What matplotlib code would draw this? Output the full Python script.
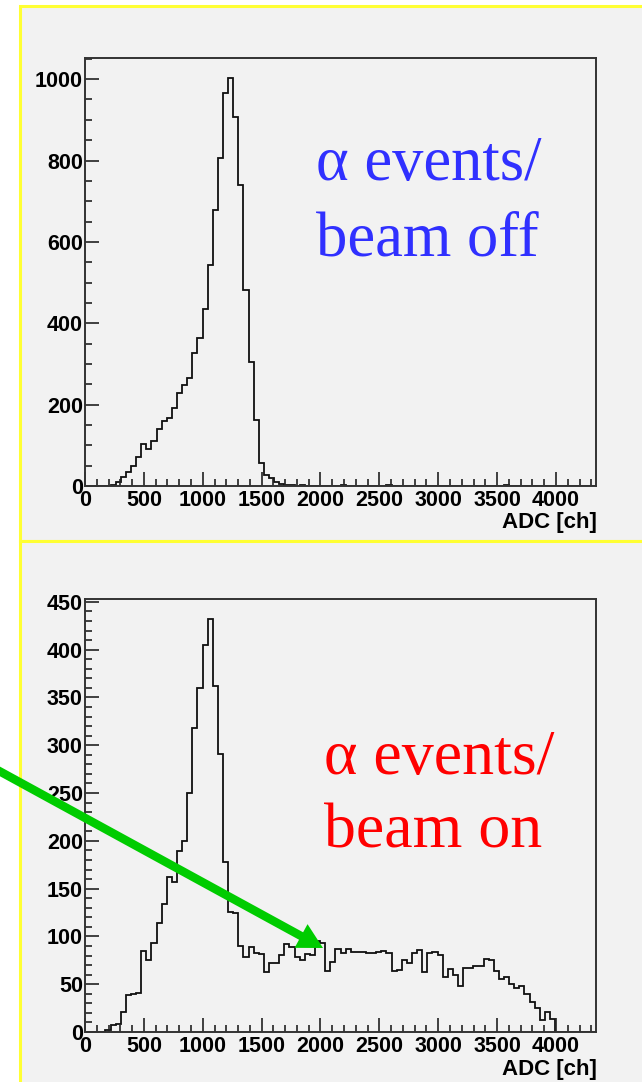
import numpy as np
import matplotlib
matplotlib.use('Agg')
import matplotlib.pyplot as plt
from matplotlib.patches import Rectangle, FancyArrow
from matplotlib.transforms import IdentityTransform
from matplotlib.ticker import MultipleLocator
from matplotlib.font_manager import FontProperties

# ADC spectra, 100 bins over the full axis range
adc_max = 4340
n_bins = 100

beam_off = [0, 0, 0, 0, 0,
            3, 10, 21, 34, 49,
            71, 103, 91, 110, 141,
            160, 167, 191, 228, 248,
            265, 327, 363, 434, 543,
            678, 806, 967, 1004, 906,
            739, 482, 306, 163, 56,
            26, 20, 10, 4, 3,
            2, 1, 2, 1, 0,
            1, 0, 0, 1, 0,
            2, 0, 1, 0, 0,
            1, 0, 1, 0, 2,
            0, 1, 0, 0, 1,
            0, 1, 0, 0, 1,
            0, 0, 1, 0, 0,
            1, 0, 0, 0, 1,
            0, 0, 2, 0, 0,
            1, 0, 0, 0, 0,
            0, 0, 0, 0, 0,
            0, 0, 0, 0, 0]

beam_on = [0, 0, 0, 0, 2,
           7, 8, 21, 39, 40,
           41, 85, 75, 93, 114,
           134, 162, 157, 189, 200,
           250, 318, 360, 405, 432,
           362, 291, 178, 126, 124,
           90, 78, 89, 83, 82,
           63, 72, 72, 81, 92,
           89, 78, 75, 82, 81,
           95, 93, 64, 73, 87,
           83, 87, 84, 84, 84,
           83, 83, 84, 85, 83,
           64, 65, 75, 72, 83,
           86, 63, 83, 84, 81,
           58, 66, 60, 48, 67,
           67, 69, 69, 76, 75,
           64, 55, 58, 50, 46,
           48, 40, 31, 25, 13,
           21, 14, 0, 0, 0,
           0, 0, 0, 0, 0]

xlabel = 'ADC [ch]'
label_off = ['\u03b1 events/', 'beam off']
label_on = ['\u03b1 events/', 'beam on']

W, H = 642, 1082
bg = '#f2f2f2'
yellow = '#ffff33'
tickfont = FontProperties(family='Liberation Sans', weight='bold', size=15.5)
xlabfont = FontProperties(family='Liberation Sans', weight='bold', size=16)

fig = plt.figure(figsize=(W / 100, H / 100), dpi=100, facecolor='white')

# panel backgrounds with yellow borders
fig.add_artist(Rectangle((20 / W, 1 - 541 / H), 1.0, 535 / H, transform=fig.transFigure,
                         facecolor=bg, edgecolor=yellow, lw=2.2, zorder=-2))
fig.add_artist(Rectangle((20 / W, -0.02), 1.0, 1 - 541 / H + 0.02, transform=fig.transFigure,
                         facecolor=bg, edgecolor=yellow, lw=2.2, zorder=-2))


def px_axes(left, top, right, bottom):
    return fig.add_axes([left / W, 1 - bottom / H, (right - left) / W, (bottom - top) / H])


def style(ax, ymax, ymaj, ymin):
    ax.set_facecolor(bg)
    ax.set_xlim(0, adc_max)
    ax.set_ylim(0, ymax)
    ax.xaxis.set_major_locator(MultipleLocator(500))
    ax.xaxis.set_minor_locator(MultipleLocator(100))
    ax.yaxis.set_major_locator(MultipleLocator(ymaj))
    ax.yaxis.set_minor_locator(MultipleLocator(ymin))
    ax.tick_params(which='both', direction='in', top=False, right=False,
                   width=1.2, color='#222222')
    ax.tick_params(which='major', length=10)
    ax.tick_params(which='minor', length=5)
    ax.tick_params(axis='x', pad=3)
    ax.tick_params(axis='y', pad=1.5)
    for lab in ax.get_xticklabels() + ax.get_yticklabels():
        lab.set_fontproperties(tickfont)
    for sp in ax.spines.values():
        sp.set_color('#333333')
        sp.set_linewidth(1.4)


edges = np.linspace(0, adc_max, n_bins + 1)

ax1 = px_axes(85, 58, 596, 486)
ax1.stairs(beam_off, edges, color='#111111', lw=1.3)
style(ax1, 1052, 200, 50)

ax2 = px_axes(85, 599, 596, 1032)
ax2.stairs(beam_on, edges, color='#111111', lw=1.3)
style(ax2, 453, 50, 10)

fig.text(597 / W, 1 - 528 / H, xlabel, ha='right', va='baseline', fontproperties=xlabfont)
fig.text(597 / W, 1 - 1075 / H, xlabel, ha='right', va='baseline', fontproperties=xlabfont)

serif = dict(family='Liberation Serif', ha='left', va='baseline')
fig.text(316 / W, 1 - 180 / H, label_off[0], color='#3030ff', fontsize=45, **serif)
fig.text(316 / W, 1 - 255 / H, label_off[1], color='#3030ff', fontsize=45, **serif)
fig.text(324 / W, 1 - 774 / H, label_on[0], color='#ff0000', fontsize=46, **serif)
fig.text(324 / W, 1 - 848 / H, label_on[1], color='#ff0000', fontsize=46, **serif)

# green arrow pointing at the new continuum (pixel coordinates)
x0, y0 = -10, H - 766
x1, y1 = 323, H - 948
fig.add_artist(FancyArrow(x0, y0, x1 - x0, y1 - y0, width=8.5, head_width=27, head_length=25,
                          length_includes_head=True, color='#00cc00', lw=0,
                          transform=IdentityTransform(), zorder=5))

fig.savefig('out.png', dpi=100, facecolor='white')
